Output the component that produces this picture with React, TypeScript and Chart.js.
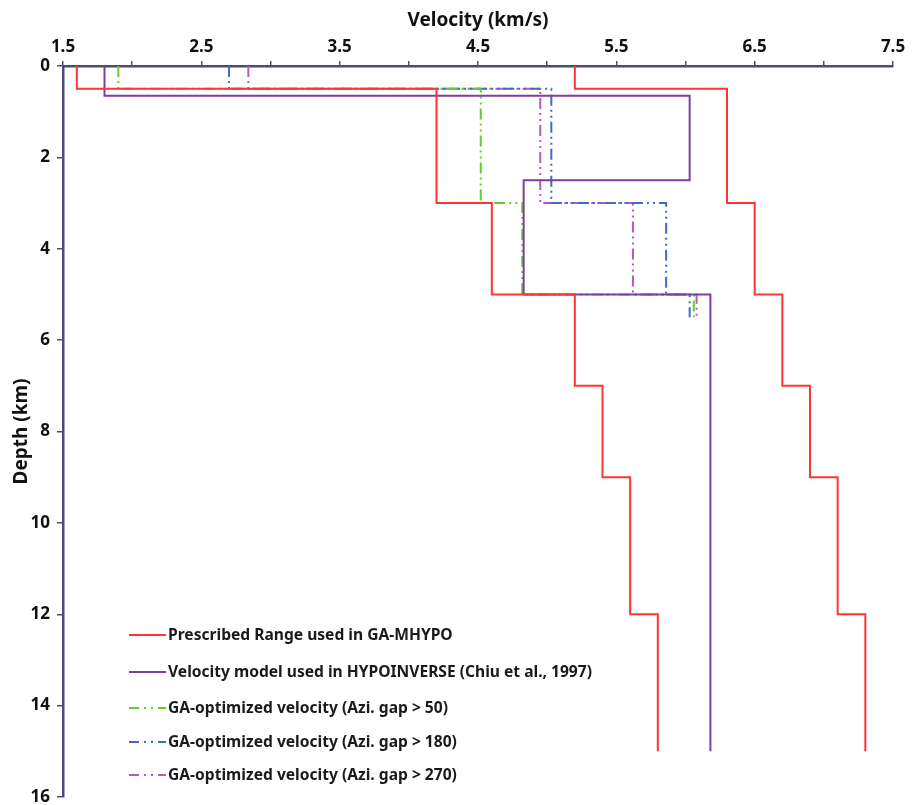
import React, { useEffect, useRef } from "react";
import { Chart, registerables } from "chart.js";

Chart.register(...registerables);

// ---- data (velocity in km/s, depth in km) ----
const rangeLowDepths = [0, 0.5, 3, 5, 7, 9, 12, 15];
const rangeLowVel = [1.6, 4.2, 4.6, 5.2, 5.4, 5.6, 5.8];
const rangeHighDepths = [0, 0.5, 3, 5, 7, 9, 12, 15];
const rangeHighVel = [5.2, 6.3, 6.5, 6.7, 6.9, 7.1, 7.3];

const hypoDepths = [0, 0.65, 2.5, 5, 15];
const hypoVel = [1.8, 6.03, 4.83, 6.18];

const gap50Depths = [0, 0.5, 3, 5, 5.5];
const gap50Vel = [1.9, 4.52, 4.82, 6.06];

const gap180Depths = [0, 0.5, 3, 5, 5.5];
const gap180Vel = [2.7, 5.03, 5.86, 6.03];

const gap270Depths = [0, 0.5, 3, 5, 5.5];
const gap270Vel = [2.84, 4.95, 5.62, 6.08];

const xTickLabels = ["1.5", "2.5", "3.5", "4.5", "5.5", "6.5", "7.5"];
const yTickValues = [0, 2, 4, 6, 8, 10, 12, 14, 16];

const legendLabels = [
  "Prescribed Range used in GA-MHYPO",
  "Velocity model used in HYPOINVERSE (Chiu et al., 1997)",
  "GA-optimized velocity (Azi. gap > 50)",
  "GA-optimized velocity (Azi. gap > 180)",
  "GA-optimized velocity (Azi. gap > 270)",
];

// ---- styles ----
const RED = "#ff3535";
const PURPLE = "#7d3f9f";
const GREEN = "#66cc33";
const BLUE = "#4568cc";
const MAGENTA = "#b657c8";
const AXIS = "#4b4b7d";
const DASH = [11, 4, 2, 4, 2, 4];
const FONT = "'Noto Sans', 'DejaVu Sans', sans-serif";

function steps(depths: number[], vels: number[]) {
  const pts: { x: number; y: number }[] = [];
  for (let i = 0; i < vels.length; i++) {
    pts.push({ x: vels[i], y: depths[i] });
    pts.push({ x: vels[i], y: depths[i + 1] });
  }
  return pts;
}

const legendItems = [
  { text: legendLabels[0], color: RED, dash: [] as number[] },
  { text: legendLabels[1], color: PURPLE, dash: [] as number[] },
  { text: legendLabels[2], color: GREEN, dash: [10, 5, 2, 5, 2, 5] },
  { text: legendLabels[3], color: BLUE, dash: [10, 5, 2, 5, 2, 5] },
  { text: legendLabels[4], color: MAGENTA, dash: [10, 5, 2, 5, 2, 5] },
];

const legendPlugin = {
  id: "customLegend",
  afterDraw(chart: any) {
    const ctx = chart.ctx as CanvasRenderingContext2D;
    const ys = [635, 672, 708, 742, 775];
    ctx.save();
    ctx.font = `bold 15.6px ${FONT}`;
    ctx.textBaseline = "middle";
    ctx.fillStyle = "#1a1a1a";
    legendItems.forEach((it, i) => {
      const y = ys[i];
      ctx.beginPath();
      ctx.strokeStyle = it.color;
      ctx.lineWidth = 2;
      ctx.setLineDash(it.dash);
      ctx.moveTo(129, y);
      ctx.lineTo(166, y);
      ctx.stroke();
      ctx.setLineDash([]);
      ctx.fillText(it.text, 168, y + 1);
    });
    ctx.restore();
  },
};

export default function App() {
  const ref = useRef<HTMLCanvasElement | null>(null);

  useEffect(() => {
    if (!ref.current) return;
    const mk = (label: string, data: any, color: string, dash: number[]) => ({
      label,
      data,
      borderColor: color,
      backgroundColor: color,
      borderWidth: 2,
      borderDash: dash,
      showLine: true,
      pointRadius: 0,
      fill: false,
      tension: 0,
    });
    const chart = new Chart(ref.current, {
      type: "scatter",
      data: {
        datasets: [
          mk(legendLabels[0], steps(rangeLowDepths, rangeLowVel), RED, []),
          mk(legendLabels[0], steps(rangeHighDepths, rangeHighVel), RED, []),
          mk(legendLabels[1], steps(hypoDepths, hypoVel), PURPLE, []),
          mk(legendLabels[2], steps(gap50Depths, gap50Vel), GREEN, DASH),
          mk(legendLabels[3], steps(gap180Depths, gap180Vel), BLUE, DASH),
          mk(legendLabels[4], steps(gap270Depths, gap270Vel), MAGENTA, DASH),
        ],
      },
      options: {
        responsive: false,
        animation: false,
        layout: { padding: { left: 0, right: 24, top: 0, bottom: 8 } },
        plugins: {
          legend: { display: false },
          tooltip: { enabled: false },
        },
        scales: {
          x: {
            type: "linear",
            position: "top",
            min: 1.5,
            max: 7.5,
            afterFit: (s: any) => {
              s.height = 66;
            },
            afterBuildTicks: (s: any) => {
              const t: any[] = [];
              for (let i = 0; i <= 12; i++) t.push({ value: 1.5 + i * 0.5 });
              s.ticks = t;
            },
            ticks: {
              autoSkip: false,
              maxRotation: 0,
              padding: 4,
              color: "#111",
              font: { family: FONT, size: 17, weight: "bold" },
              callback: (v: any) => {
                const idx = Math.round((Number(v) - 1.5) * 2);
                return idx % 2 === 0 ? xTickLabels[idx / 2] : "";
              },
            },
            grid: {
              drawOnChartArea: false,
              drawTicks: true,
              tickLength: 5,
              color: AXIS,
              lineWidth: 1.5,
            },
            border: { display: true, color: AXIS, width: 2.5 },
            title: {
              display: true,
              text: "Velocity (km/s)",
              color: "#111",
              font: { family: FONT, size: 19, weight: "bold" },
              padding: { top: 9, bottom: 0 },
            },
          },
          y: {
            type: "linear",
            reverse: true,
            min: 0,
            max: 16,
            afterFit: (s: any) => {
              s.width = 63;
              s.paddingBottom = 0;
              s.paddingTop = 0;
            },
            afterBuildTicks: (s: any) => {
              s.ticks = yTickValues.map((v) => ({ value: v }));
            },
            ticks: {
              autoSkip: false,
              padding: 7,
              color: "#111",
              font: { family: FONT, size: 17, weight: "bold" },
            },
            grid: {
              drawOnChartArea: false,
              drawTicks: true,
              tickLength: 6,
              color: AXIS,
              lineWidth: 1.5,
            },
            border: { display: true, color: AXIS, width: 2.5 },
            title: {
              display: true,
              text: "Depth (km)",
              color: "#111",
              font: { family: FONT, size: 19, weight: "bold" },
              padding: { top: 10, bottom: 0 },
            },
          },
        },
      },
      plugins: [legendPlugin],
    } as any);
    return () => chart.destroy();
  }, []);

  return (
    <div style={{ position: "absolute", left: 0, top: 0, width: 917, height: 805, background: "#fff" }}>
      <canvas ref={ref} width={917} height={805} style={{ width: 917, height: 805, display: "block" }} />
    </div>
  );
}
